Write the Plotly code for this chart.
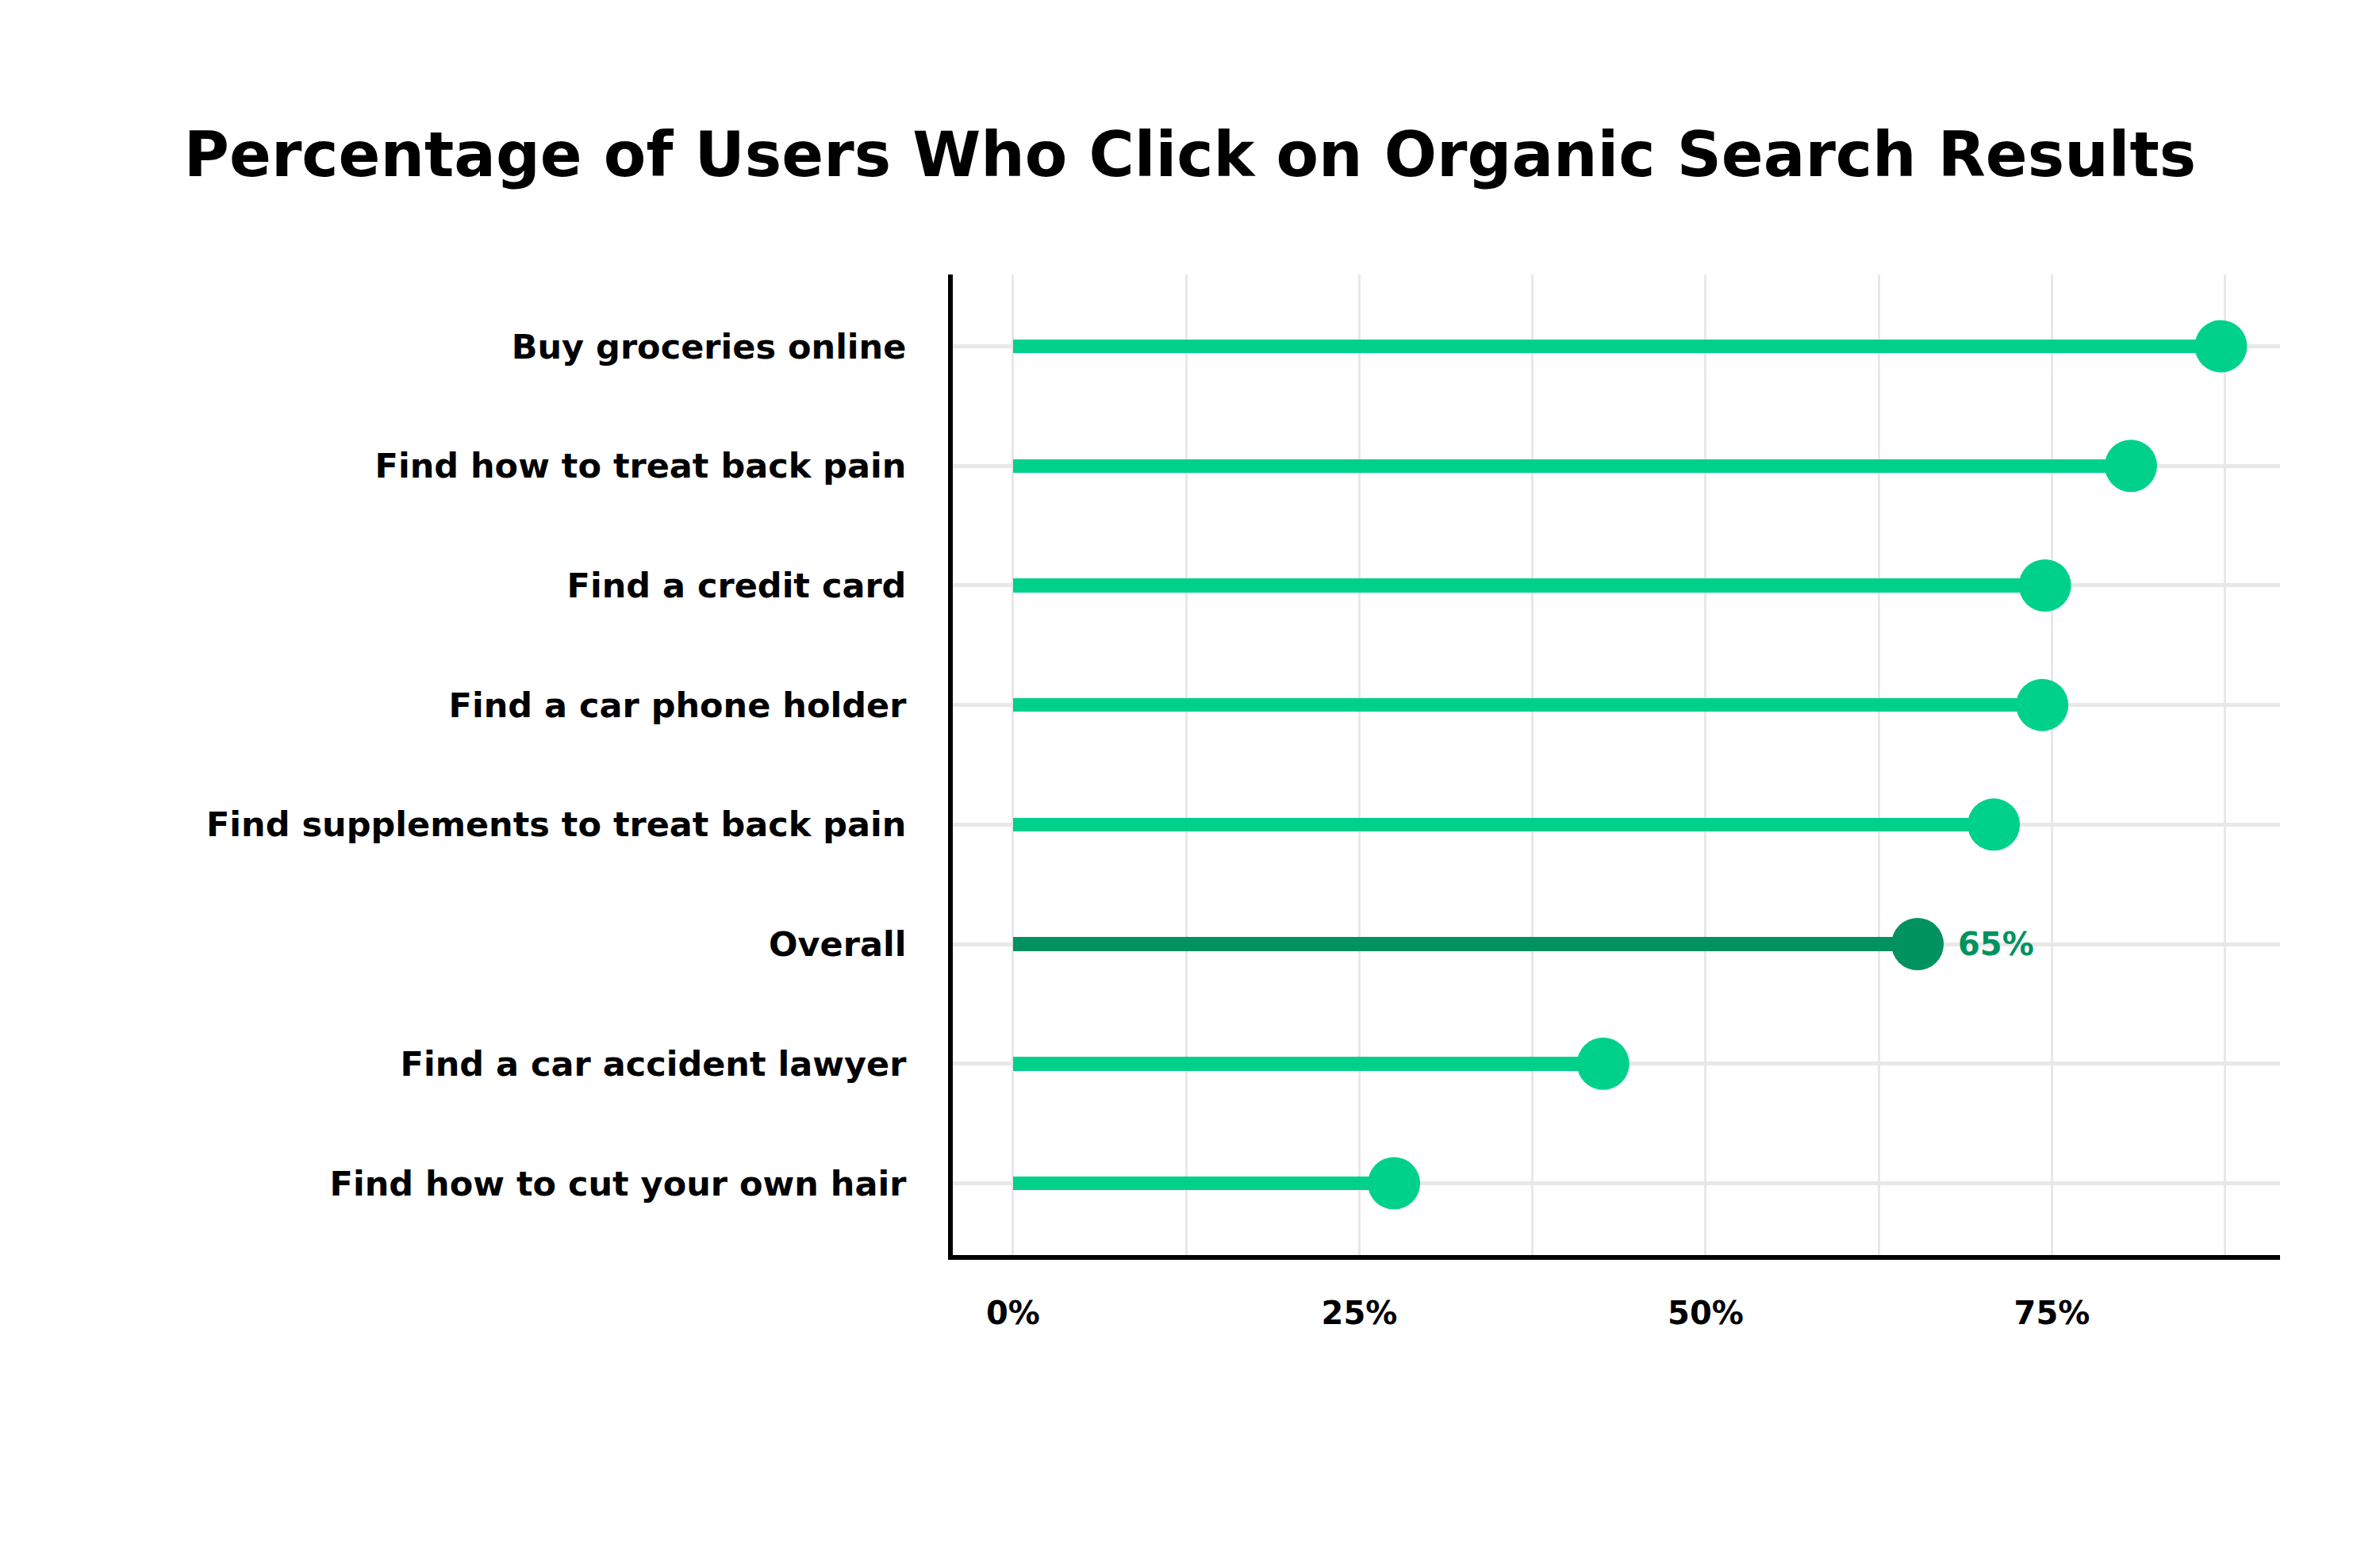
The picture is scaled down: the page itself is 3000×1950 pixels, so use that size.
import plotly.graph_objects as go

categories = [
    "Buy groceries online",
    "Find how to treat back pain",
    "Find a credit card",
    "Find a car phone holder",
    "Find supplements to treat back pain",
    "Overall",
    "Find a car accident lawyer",
    "Find how to cut your own hair",
]
values = [87.2, 80.7, 74.5, 74.3, 70.8, 65.3, 42.6, 27.5]
highlight = "Overall"
highlight_label = "65%"
x_tick_vals = [0, 25, 50, 75]
x_tick_text = ["0%", "25%", "50%", "75%"]
x_minor_vals = [12.5, 37.5, 62.5, 87.5]

LIGHT = "#00D18A"
DARK = "#00925F"
FONT = "DejaVu Sans"

colors = [DARK if c == highlight else LIGHT for c in categories]

fig = go.Figure()
fig.add_trace(go.Bar(
    x=values, y=categories, orientation="h", width=0.115,
    marker=dict(color=colors, line=dict(width=0)),
    hoverinfo="skip", showlegend=False,
))
fig.add_trace(go.Scatter(
    x=values, y=categories, mode="markers",
    marker=dict(size=66, color=colors, line=dict(width=0)),
    showlegend=False, cliponaxis=False,
))

hi = categories.index(highlight)
fig.add_annotation(
    x=values[hi], y=categories[hi], text=highlight_label,
    showarrow=False, xanchor="left", yanchor="middle", xshift=49,
    font=dict(family=FONT, size=40, color=DARK, weight="bold"),
)

fig.update_layout(
    width=3000, height=1950,
    paper_bgcolor="white", plot_bgcolor="white",
    margin=dict(l=1201, r=126, t=346, b=368),
    bargap=0,
    title=dict(
        text="Percentage of Users Who Click on Organic Search Results",
        x=0.5, xanchor="center", y=1 - 195 / 1950, yanchor="middle",
        font=dict(family=FONT, size=78, color="black", weight="bold"),
    ),
    xaxis=dict(
        range=[-4.35, 91.47],
        tickvals=x_tick_vals, ticktext=x_tick_text,
        showgrid=True, gridcolor="#E8E8E8", gridwidth=3,
        minor=dict(tickvals=x_minor_vals, showgrid=True, gridcolor="#E8E8E8", gridwidth=3),
        zeroline=False,
        showline=True, linecolor="black", linewidth=6,
        ticks="", ticklabelstandoff=33,
        tickfont=dict(family=FONT, size=40, color="black", weight="bold"),
        fixedrange=True,
    ),
    yaxis=dict(
        categoryorder="array", categoryarray=categories,
        range=[7.6, -0.6],
        showgrid=True, gridcolor="#E8E8E8", gridwidth=5,
        zeroline=False,
        showline=True, linecolor="black", linewidth=6,
        ticks="", ticklabelstandoff=44,
        tickfont=dict(family=FONT, size=43, color="black", weight="bold"),
        fixedrange=True,
    ),
)

fig.write_html("out.html")
